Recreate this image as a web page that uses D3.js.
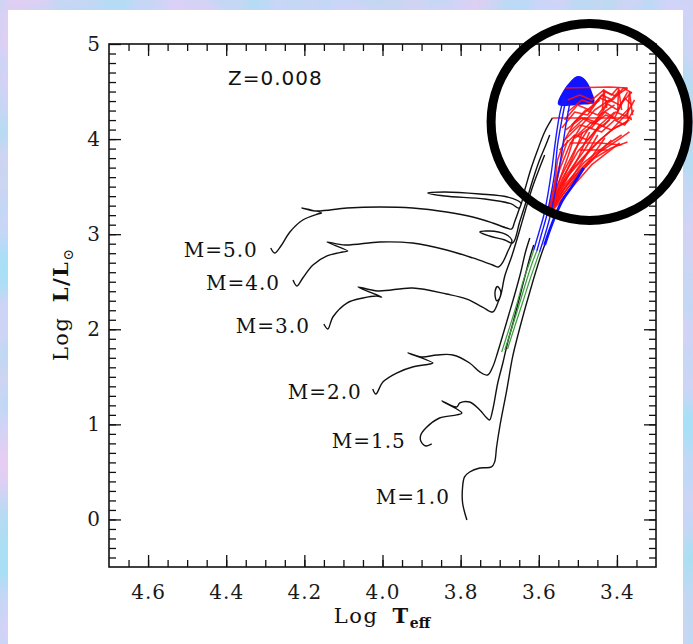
<!DOCTYPE html>
<html>
<head>
<meta charset="utf-8">
<script src="https://cdn.jsdelivr.net/npm/d3@7"></script>
<style>
  html, body { margin: 0; padding: 0; background: #c6daf4; }
  svg { display: block; }
</style>
</head>
<body>
<svg id="chart" width="693" height="644"></svg>
<script>
// ---- Evolutionary tracks, Z = 0.008: [log Teff, log L/Lsun] ----
const track50 = [[4.286,2.855],[4.276,2.802],[4.260,2.876],[4.237,3.023],[4.204,3.149],[4.166,3.212],[4.156,3.223],[4.206,3.275],[4.171,3.244],[4.091,3.275],[4.007,3.286],[3.923,3.275],[3.836,3.233],[3.769,3.181],[3.718,3.118],[3.682,3.065],[3.669,3.055],[3.662,3.128],[3.651,3.254],[3.646,3.328],[3.680,3.391],[3.751,3.423],[3.841,3.444],[3.884,3.433],[3.841,3.401],[3.738,3.370],[3.669,3.317],[3.651,3.275],[3.636,3.465],[3.621,3.675],[3.603,3.885],[3.585,4.075],[3.565,4.222]];
const track40 = [[4.229,2.518],[4.219,2.455],[4.204,2.539],[4.178,2.676],[4.142,2.771],[4.102,2.813],[4.089,2.823],[4.142,2.918],[4.096,2.886],[4.007,2.918],[3.923,2.907],[3.836,2.834],[3.769,2.750],[3.718,2.676],[3.703,2.655],[3.692,2.707],[3.680,2.813],[3.669,2.939],[3.687,3.002],[3.726,3.033],[3.751,3.023],[3.726,2.981],[3.687,2.939],[3.667,2.907],[3.649,3.128],[3.631,3.360],[3.613,3.601],[3.598,3.780],[3.582,3.938],[3.572,4.043]];
const track30 = [[4.150,2.056],[4.140,2.003],[4.127,2.129],[4.091,2.276],[4.050,2.329],[4.015,2.350],[4.002,2.339],[4.063,2.445],[4.012,2.403],[3.923,2.434],[3.836,2.371],[3.784,2.318],[3.744,2.234],[3.718,2.182],[3.705,2.276],[3.697,2.392],[3.706,2.450],[3.712,2.392],[3.708,2.300],[3.700,2.329],[3.687,2.560],[3.669,2.771],[3.651,3.013],[3.634,3.254],[3.616,3.496],[3.600,3.675],[3.585,3.833]];
const track20 = [[4.025,1.372],[4.017,1.319],[3.999,1.446],[3.964,1.540],[3.923,1.603],[3.879,1.635],[3.871,1.645],[3.935,1.751],[3.900,1.709],[3.861,1.730],[3.820,1.730],[3.777,1.645],[3.751,1.551],[3.731,1.519],[3.718,1.603],[3.705,1.761],[3.692,1.940],[3.677,2.150],[3.662,2.360],[3.646,2.602],[3.634,2.813],[3.623,2.960]];
const track15 = [[3.874,0.794],[3.889,0.773],[3.902,0.825],[3.902,0.888],[3.889,0.962],[3.854,1.067],[3.810,1.099],[3.797,1.120],[3.848,1.246],[3.810,1.183],[3.802,1.225],[3.777,1.235],[3.751,1.151],[3.733,1.067],[3.726,1.046],[3.718,1.151],[3.705,1.435],[3.692,1.645],[3.680,1.856],[3.664,2.098],[3.649,2.339],[3.634,2.581],[3.621,2.781],[3.613,2.886]];
const track10 = [[3.784,-0.006],[3.795,0.173],[3.795,0.341],[3.790,0.447],[3.777,0.499],[3.751,0.541],[3.721,0.552],[3.713,0.604],[3.708,0.762],[3.700,0.972],[3.682,1.361],[3.667,1.709],[3.654,1.929],[3.639,2.161],[3.623,2.392],[3.608,2.602],[3.595,2.771],[3.585,2.886]];
const massLabels = ["M=5.0","M=4.0","M=3.0","M=2.0","M=1.5","M=1.0"];

// Early-AGB segments (green)
const greenAGB = [
  [[3.695,1.761],[3.677,1.992],[3.657,2.255],[3.639,2.518],[3.623,2.707],[3.613,2.834]],
  [[3.687,1.782],[3.669,2.013],[3.649,2.276],[3.631,2.518],[3.616,2.707],[3.605,2.823]],
  [[3.680,1.793],[3.662,2.024],[3.641,2.287],[3.623,2.518],[3.608,2.697],[3.598,2.813]]
];
// Later AGB ascent (blue)
const blueAGB = [
  [[3.613,2.834],[3.600,3.013],[3.587,3.202],[3.577,3.412],[3.567,3.675],[3.557,3.990],[3.547,4.253],[3.536,4.432]],
  [[3.605,2.823],[3.593,3.002],[3.580,3.191],[3.570,3.391],[3.559,3.654],[3.552,3.938],[3.541,4.201],[3.531,4.411]],
  [[3.598,2.813],[3.585,2.981],[3.572,3.170],[3.562,3.360],[3.552,3.591],[3.541,3.864],[3.531,4.138],[3.521,4.369]]
];
const blueEdge = [[3.585,2.886],[3.572,3.044],[3.557,3.202],[3.539,3.360],[3.516,3.496],[3.485,3.696]];
const blueCap = [[3.549,4.369],[3.534,4.516],[3.518,4.600],[3.503,4.653],[3.488,4.642],[3.475,4.579],[3.465,4.485],[3.460,4.390],[3.495,4.369]];

// Thermally pulsing AGB (red)
const tpagb = [
  // lower fan
  [[3.577,3.212],[3.541,3.444],[3.495,3.675],[3.444,3.864],[3.398,3.990],[3.368,4.075]],
  [[3.575,3.254],[3.534,3.517],[3.483,3.759],[3.431,3.927],[3.388,4.043]],
  [[3.572,3.286],[3.534,3.570],[3.490,3.780],[3.444,3.990],[3.406,4.117],[3.373,4.180]],
  [[3.570,3.317],[3.539,3.591],[3.501,3.864],[3.457,4.075],[3.419,4.201]],
  [[3.567,3.360],[3.541,3.622],[3.508,3.885],[3.475,4.096],[3.444,4.253],[3.406,4.359]],
  [[3.565,3.401],[3.547,3.675],[3.521,3.938],[3.490,4.148],[3.457,4.306],[3.419,4.411]],
  [[3.577,3.191],[3.541,3.401],[3.501,3.622],[3.457,3.801],[3.414,3.906],[3.373,3.969]],
  [[3.562,3.444],[3.552,3.780],[3.534,3.990],[3.508,4.180],[3.470,4.327],[3.444,4.411]],
  [[3.577,3.233],[3.557,3.570],[3.539,3.833],[3.526,3.990]],
  [[3.575,3.254],[3.547,3.570],[3.524,3.833],[3.508,4.043]],
  [[3.577,3.223],[3.541,3.549],[3.511,3.833],[3.488,4.075]],
  [[3.575,3.233],[3.534,3.538],[3.498,3.812],[3.470,4.075]],
  [[3.572,3.244],[3.526,3.528],[3.483,3.801],[3.449,4.043]],
  [[3.572,3.223],[3.531,3.507],[3.470,3.780],[3.431,4.011]],
  [[3.570,3.233],[3.526,3.486],[3.470,3.759],[3.414,3.990]],
  [[3.572,3.212],[3.521,3.465],[3.465,3.728],[3.393,3.959]],
  [[3.567,3.307],[3.529,3.622],[3.483,3.885],[3.444,4.148],[3.406,4.285]],
  [[3.565,3.360],[3.516,3.675],[3.465,3.906],[3.414,4.096],[3.368,4.201]],
  // final horizontal excursions
  [[3.565,4.222],[3.362,4.222]],
  [[3.531,4.537],[3.419,4.548],[3.373,4.537]],
  [[3.521,3.959],[3.444,3.959],[3.388,3.938]],
  [[3.495,3.885],[3.424,3.885]],
  // pulse cycles near the tip
  [[3.534,3.990],[3.495,4.148],[3.465,4.117],[3.431,4.285],[3.406,4.222],[3.380,4.432],[3.362,4.359]],
  [[3.521,4.075],[3.483,4.222],[3.455,4.180],[3.424,4.369],[3.398,4.306],[3.373,4.495]],
  [[3.541,4.117],[3.508,4.285],[3.475,4.253],[3.444,4.432],[3.419,4.390],[3.393,4.516]],
  [[3.526,4.411],[3.495,4.464],[3.465,4.411],[3.434,4.516],[3.414,4.464],[3.398,4.537]],
  [[3.508,4.011],[3.470,4.117],[3.439,4.075],[3.406,4.201],[3.380,4.148],[3.357,4.306]],
  [[3.547,3.885],[3.508,4.043],[3.475,3.990],[3.444,4.148],[3.414,4.096],[3.378,4.253],[3.362,4.201]],
  [[3.534,4.201],[3.501,4.359],[3.470,4.306],[3.439,4.464],[3.411,4.411],[3.383,4.537],[3.362,4.485]],
  [[3.526,4.285],[3.490,4.411],[3.460,4.369],[3.429,4.495],[3.403,4.453],[3.373,4.537]],
  [[3.516,4.148],[3.480,4.306],[3.449,4.253],[3.419,4.411],[3.393,4.359],[3.362,4.495]],
  [[3.501,4.043],[3.465,4.180],[3.434,4.138],[3.403,4.285],[3.378,4.243],[3.355,4.411]],
  [[3.531,4.096],[3.490,4.222],[3.460,4.159],[3.429,4.253],[3.398,4.201],[3.368,4.327]],
  [[3.437,4.306],[3.434,4.516],[3.426,4.327]],
  [[3.398,4.285],[3.396,4.537],[3.388,4.306]],
  [[3.373,4.222],[3.368,4.495],[3.360,4.253]]
];
const tickT = [4.6, 4.4, 4.2, 4.0, 3.8, 3.6, 3.4];
const tickL = [0, 1, 2, 3, 4, 5];
const metallicity = "Z=0.008";
const focus = [3.470, 4.180]; // centre of the highlighted TP-AGB region

// ---- layout ----
const W = 693, H = 644;
const svg = d3.select("#chart");
const x = d3.scaleLinear().domain([4.7, 3.3]).range([109, 656]);
const y = d3.scaleLinear().domain([-0.5, 5]).range([567, 44]);

// mottled backdrop and white panel
const defs = svg.append("defs");
const flt = defs.append("filter").attr("id", "mottle")
  .attr("x", 0).attr("y", 0).attr("width", "100%").attr("height", "100%")
  .attr("color-interpolation-filters", "sRGB");
flt.append("feTurbulence").attr("type", "fractalNoise")
  .attr("baseFrequency", "0.014 0.01").attr("numOctaves", 3).attr("seed", 11);
flt.append("feColorMatrix").attr("type", "matrix")
  .attr("values", "0.4 0 0 0 0.58  -0.12 0 0 0 0.9  0 0 0.06 0 0.93  0 0 0 0 1");
svg.append("rect").attr("width", W).attr("height", H).attr("filter", "url(#mottle)");
svg.append("rect").attr("x", 8).attr("y", 10).attr("width", 675).attr("height", H - 10).attr("fill", "#fff");

const plot = svg.append("g");
const smooth = d3.line()
  .x(d => x(d[0])).y(d => y(d[1]))
  .curve(d3.curveCatmullRom.alpha(0.5));
const straight = d3.line().x(d => x(d[0])).y(d => y(d[1]));

// black tracks
const tracks = [track50, track40, track30, track20, track15, track10];
plot.selectAll("path.track").data(tracks).join("path")
  .attr("class", "track").attr("d", smooth)
  .attr("fill", "none").attr("stroke", "#111").attr("stroke-width", 1.4)
  .attr("stroke-linejoin", "round");

plot.selectAll("path.green").data(greenAGB).join("path")
  .attr("class", "green").attr("d", smooth)
  .attr("fill", "none").attr("stroke", "#3f9c3f").attr("stroke-width", 1.2);

// blue cap sits under the red pulses
plot.append("path").datum(blueCap)
  .attr("d", d3.line().x(d => x(d[0])).y(d => y(d[1])).curve(d3.curveCatmullRomClosed.alpha(0.5)))
  .attr("fill", "#1212ff").attr("stroke", "#1212ff").attr("stroke-width", 1.5);

plot.selectAll("path.red").data(tpagb).join("path")
  .attr("class", "red").attr("d", straight)
  .attr("fill", "none").attr("stroke", "#ff0c0c").attr("stroke-width", 1.6)
  .attr("stroke-opacity", 0.88).attr("stroke-linejoin", "round");

plot.selectAll("path.blue").data(blueAGB).join("path")
  .attr("class", "blue").attr("d", smooth)
  .attr("fill", "none").attr("stroke", "#1a1aff").attr("stroke-width", 1.4);

plot.append("path").datum(blueEdge).attr("d", smooth)
  .attr("fill", "none").attr("stroke", "#1010ff").attr("stroke-width", 2.8);

// mass labels next to the start of each track
const labelNudge = [[-13, 9], [-13, 10], [-14, 9], [-11, 10], [-26, 4], [-17, -16]];
plot.selectAll("text.mass").data(massLabels).join("text")
  .attr("class", "mass")
  .attr("x", (d, i) => x(tracks[i][0][0]) + labelNudge[i][0])
  .attr("y", (d, i) => y(tracks[i][0][1]) + labelNudge[i][1])
  .attr("text-anchor", "end")
  .attr("font-family", "DejaVu Serif").attr("font-size", 20)
  .attr("letter-spacing", 1).attr("fill", "#111")
  .text(d => d);

svg.append("text").attr("x", 228).attr("y", 85)
  .attr("font-family", "DejaVu Sans").attr("font-size", 20)
  .attr("letter-spacing", 1).attr("fill", "#111").text(metallicity);

// ---- axes: inward ticks on all four sides ----
const minorT = d3.range(0, 28).map(i => +(4.65 - 0.05 * i).toFixed(2)).filter(v => v > 3.3);
const minorL = d3.range(0, 55).map(i => +(-0.4 + 0.1 * i).toFixed(1)).filter(v => v < 5);

function styleAxis(g) {
  g.select(".domain").remove();
  g.selectAll(".tick line").attr("stroke", "#111").attr("stroke-width", 1.3);
  g.selectAll("text").attr("font-family", "DejaVu Serif").attr("font-size", 20)
    .attr("letter-spacing", 1).attr("fill", "#1a1a1a");
}
const axes = svg.append("g");
axes.append("g").attr("transform", "translate(0,567)")
  .call(d3.axisBottom(x).tickValues(minorT).tickSize(-7).tickFormat("")).call(styleAxis);
axes.append("g").attr("transform", "translate(0,567)")
  .call(d3.axisBottom(x).tickValues(tickT).tickSize(-12).tickPadding(18).tickFormat(d3.format(".1f"))).call(styleAxis);
axes.append("g").attr("transform", "translate(0,44)")
  .call(d3.axisTop(x).tickValues(minorT).tickSize(-7).tickFormat("")).call(styleAxis);
axes.append("g").attr("transform", "translate(0,44)")
  .call(d3.axisTop(x).tickValues(tickT).tickSize(-12).tickFormat("")).call(styleAxis);
axes.append("g").attr("transform", "translate(109,0)")
  .call(d3.axisLeft(y).tickValues(minorL).tickSize(-7).tickFormat("")).call(styleAxis);
axes.append("g").attr("transform", "translate(109,0)")
  .call(d3.axisLeft(y).tickValues(tickL).tickSize(-12).tickPadding(8).tickFormat(d3.format("d"))).call(styleAxis);
axes.append("g").attr("transform", "translate(656,0)")
  .call(d3.axisRight(y).tickValues(minorL).tickSize(-7).tickFormat("")).call(styleAxis);
axes.append("g").attr("transform", "translate(656,0)")
  .call(d3.axisRight(y).tickValues(tickL).tickSize(-12).tickFormat("")).call(styleAxis);

axes.append("rect").attr("x", 109).attr("y", 44).attr("width", 547).attr("height", 523)
  .attr("fill", "none").attr("stroke", "#111").attr("stroke-width", 1.6);

// axis titles
const xt = svg.append("text").attr("x", 382).attr("y", 623).attr("text-anchor", "middle")
  .attr("font-family", "DejaVu Serif").attr("font-size", 21).attr("letter-spacing", 1.5).attr("fill", "#111");
xt.append("tspan").text("Log ");
xt.append("tspan").attr("font-weight", "bold").attr("dx", 6).text("T");
xt.append("tspan").attr("font-weight", "bold").attr("font-size", 14).attr("letter-spacing", 0).attr("dy", 5).text("eff");

const yt = svg.append("text").attr("transform", "translate(68,305) rotate(-90)")
  .attr("text-anchor", "middle")
  .attr("font-family", "DejaVu Serif").attr("font-size", 21).attr("letter-spacing", 1.5).attr("fill", "#111");
yt.append("tspan").text("Log ");
yt.append("tspan").attr("font-weight", "bold").attr("dx", 6).text("L/L");
yt.append("tspan").attr("font-size", 14).attr("letter-spacing", 0).attr("dy", 5).text("\u2299");

// highlight ring around the TP-AGB region
svg.append("circle").attr("cx", x(focus[0])).attr("cy", y(focus[1])).attr("r", 98.5)
  .attr("fill", "none").attr("stroke", "#000").attr("stroke-width", 9);
</script>
</body>
</html>
